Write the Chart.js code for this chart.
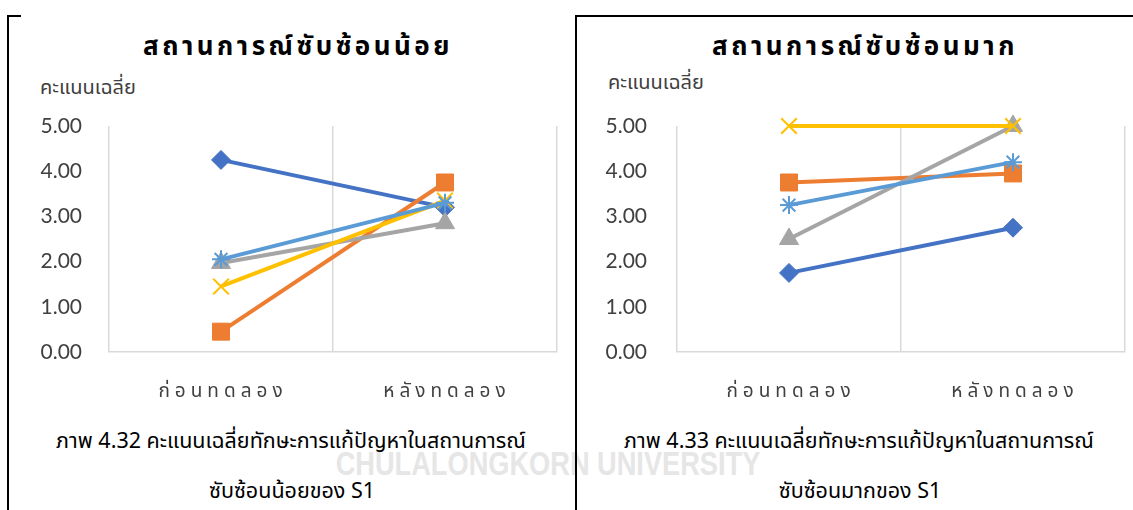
<!DOCTYPE html>
<html>
<head>
<meta charset="utf-8">
<script src="https://cdn.jsdelivr.net/npm/chart.js@4/dist/chart.umd.min.js"></script>
<style>
  html, body { margin: 0; padding: 0; background: #fff; }
  #page { position: relative; width: 1133px; height: 510px; overflow: hidden; font-family: "Noto Sans Thai", "Noto Sans", sans-serif; }
  .line { position: absolute; background: #000; }
  .title { position: absolute; width: 600px; text-align: center; font-weight: bold; font-size: 26px; letter-spacing: 3.5px; color: #000; line-height: 34px; }
  .ylabel { position: absolute; font-size: 20px; color: #404040; line-height: 22px; }
  .caption { position: absolute; width: 600px; text-align: center; font-size: 21.5px; color: #000; line-height: 26px; }
  .mark { position: absolute; left: 248px; width: 600px; top: 444px; text-align: center; font-family: "Liberation Sans Narrow", "Liberation Sans", sans-serif; font-weight: bold; font-size: 34px; color: #e6e6e6; line-height: 38px; transform: scaleX(0.8); }
  canvas { position: absolute; }
</style>
</head>
<body>
<div id="page">
  <div class="mark">CHULALONGKORN UNIVERSITY</div>

  <div class="line" style="left:7px; top:15px; width:2px; height:495px;"></div>
  <div class="line" style="left:7px; top:15px; width:14px; height:2px;"></div>
  <div class="line" style="left:575px; top:15px; width:2px; height:495px;"></div>
  <div class="line" style="left:575px; top:15px; width:558px; height:2px;"></div>

  <div class="title" style="left:-2px; top:30px;">สถานการณ์ซับซ้อนน้อย</div>
  <div class="title" style="left:565px; top:30px;">สถานการณ์ซับซ้อนมาก</div>
  <div class="ylabel" style="left:40px; top:77px;">คะแนนเฉลี่ย</div>
  <div class="ylabel" style="left:608px; top:72px;">คะแนนเฉลี่ย</div>

  <div class="caption" style="left:-9px; top:429px;">ภาพ 4.32 คะแนนเฉลี่ยทักษะการแก้ปัญหาในสถานการณ์</div>
  <div class="caption" style="left:-8px; top:479px;">ซับซ้อนน้อยของ S1</div>
  <div class="caption" style="left:559px; top:429px;">ภาพ 4.33 คะแนนเฉลี่ยทักษะการแก้ปัญหาในสถานการณ์</div>
  <div class="caption" style="left:560px; top:479px;">ซับซ้อนมากของ S1</div>

  <canvas id="chart-low" width="570" height="320" style="left:0px; top:100px;"></canvas>
  <canvas id="chart-high" width="563" height="320" style="left:570px; top:100px;"></canvas>
</div>

<script>
const categories = ['ก่อนทดลอง', 'หลังทดลอง'];
const yTicks = [0, 1, 2, 3, 4, 5];

// สถานการณ์ซับซ้อนน้อย
const lowSeries1 = [4.25, 3.2];
const lowSeries2 = [0.45, 3.75];
const lowSeries3 = [1.97, 2.85];
const lowSeries4 = [1.45, 3.35];
const lowSeries5 = [2.05, 3.3];

// สถานการณ์ซับซ้อนมาก
const highSeries1 = [1.75, 2.75];
const highSeries2 = [3.75, 3.95];
const highSeries3 = [2.5, 5.0];
const highSeries4 = [5.0, 5.0];
const highSeries5 = [3.25, 4.2];

const seriesStyles = [
  { color: '#4472C4', pointStyle: 'rectRot', radius: 9.5, border: 1 },
  { color: '#ED7D31', pointStyle: 'rect', radius: 12, border: 1 },
  { color: '#A5A5A5', pointStyle: 'triangle', radius: 11, border: 1 },
  { color: '#FFC000', pointStyle: 'crossRot', radius: 11, border: 2 },
  { color: '#5B9BD5', pointStyle: 'star', radius: 9, border: 2 },
];

function makeDatasets(seriesList) {
  return seriesList.map((values, i) => {
    const s = seriesStyles[i];
    return {
      label: 'Series' + (i + 1),
      data: values,
      borderColor: s.color,
      backgroundColor: s.color,
      borderWidth: 4,
      pointStyle: s.pointStyle,
      pointRadius: s.radius,
      pointBorderWidth: s.border,
      pointBackgroundColor: s.color,
      pointBorderColor: s.color,
      tension: 0,
      clip: false,
      order: 5 - i,
    };
  });
}

// category labels are letter-spaced like the original, so draw them ourselves
const spacedLabels = {
  id: 'spacedLabels',
  afterDraw(chart) {
    const ctx = chart.ctx;
    const xScale = chart.scales.x;
    ctx.save();
    ctx.font = '19px "Noto Sans Thai", "Noto Sans", sans-serif';
    ctx.fillStyle = '#404040';
    ctx.textAlign = 'center';
    ctx.textBaseline = 'middle';
    ctx.letterSpacing = '5px';
    categories.forEach((label, i) => {
      const x = xScale.getPixelForValue(i) + 2;
      ctx.fillText(label, x, chart.chartArea.bottom + 41);
    });
    ctx.restore();
  }
};

function makeChart(id, seriesList, axisWidth, tickPad, padRight) {
  const ctx = document.getElementById(id);
  return new Chart(ctx, {
    type: 'line',
    data: {
      labels: categories,
      datasets: makeDatasets(seriesList),
    },
    options: {
      responsive: false,
      animation: false,
      events: [],
      layout: { autoPadding: false, padding: { top: 26, right: padRight, left: 0, bottom: 0 } },
      plugins: {
        legend: { display: false },
        title: { display: false },
        tooltip: { enabled: false },
      },
      scales: {
        x: {
          type: 'category',
          offset: true,
          grid: { offset: true, color: '#D9D9D9', lineWidth: 1.5, drawTicks: false },
          border: { display: true, color: '#D9D9D9', width: 1.5 },
          ticks: { display: false },
          afterFit: (scale) => { scale.height = 68; },
        },
        y: {
          min: 0,
          max: 5,
          afterBuildTicks: (scale) => { scale.ticks = yTicks.map(v => ({ value: v })); },
          grid: { display: false, drawTicks: false },
          border: { display: false },
          ticks: {
            padding: tickPad,
            color: '#404040',
            font: { family: 'Lato', size: 21 },
            callback: (v) => Number(v).toFixed(2),
          },
          afterFit: (scale) => {
            scale.width = axisWidth;
            scale.paddingTop = 0;
            scale.paddingBottom = 0;
          },
        },
      },
    },
    plugins: [spacedLabels],
  });
}

makeChart('chart-low', [lowSeries1, lowSeries2, lowSeries3, lowSeries4, lowSeries5], 109, 27, 13);
makeChart('chart-high', [highSeries1, highSeries2, highSeries3, highSeries4, highSeries5], 107, 30, 8);
</script>
</body>
</html>
